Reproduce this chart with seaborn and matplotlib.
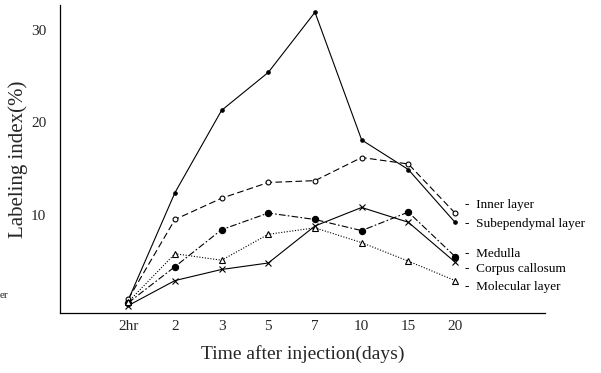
import pandas as pd
import matplotlib
matplotlib.use("Agg")
import matplotlib.pyplot as plt
import seaborn as sns

# data
times = ["2hr", "2", "3", "5", "7", "10", "15", "20"]
subependymal = [0.8, 12.4, 21.3, 25.4, 31.9, 18.1, 14.9, 9.2]
inner = [0.9, 9.5, 11.8, 13.5, 13.7, 16.2, 15.5, 10.2]
medulla = [0.5, 4.4, 8.4, 10.2, 9.5, 8.3, 10.3, 5.5]
corpus = [0.2, 2.9, 4.1, 4.8, 8.8, 10.8, 9.2, 4.9]
molecular = [0.6, 5.8, 5.1, 7.9, 8.6, 7.0, 5.0, 2.9]

series = {
    "Subependymal layer": subependymal,
    "Inner layer": inner,
    "Medulla": medulla,
    "Corpus callosum": corpus,
    "Molecular layer": molecular,
}
rows = []
for name, vals in series.items():
    for i, (t, v) in enumerate(zip(times, vals)):
        rows.append({"series": name, "pos": i, "time": t, "value": v})
df = pd.DataFrame(rows)

styles = {
    "Subependymal layer": dict(linestyle="-", marker="o", markersize=2.5, markerfacecolor="black"),
    "Inner layer": dict(linestyle=(0, (6, 3)), marker="o", markersize=3.5, markerfacecolor="white"),
    "Medulla": dict(linestyle=(0, (6, 2, 1.5, 2)), marker="o", markersize=4.5, markerfacecolor="black"),
    "Corpus callosum": dict(linestyle="-", marker="x", markersize=4.5, markerfacecolor="black"),
    "Molecular layer": dict(linestyle=(0, (1, 1.5)), marker="^", markersize=4, markerfacecolor="white"),
}

# label positions at right (data y)
label_y = {
    "Inner layer": 11.1,
    "Subependymal layer": 9.0,
    "Medulla": 5.8,
    "Corpus callosum": 4.2,
    "Molecular layer": 2.2,
}

sns.set_style("white")
plt.rcParams["font.family"] = ["Liberation Serif", "DejaVu Serif"]

fig = plt.figure(figsize=(6.01, 3.73), dpi=100)
ax = fig.add_axes([0.1, 0.161, 0.807, 0.826])

for name in series:
    sub = df[df["series"] == name]
    st = styles[name]
    sns.lineplot(data=sub, x="pos", y="value", ax=ax, color="black", linewidth=0.8,
                 linestyle=st["linestyle"], marker=st["marker"], markersize=st["markersize"],
                 markerfacecolor=st["markerfacecolor"], markeredgecolor="black",
                 markeredgewidth=0.8, legend=False)

for name, y in label_y.items():
    ax.text(7.22, y, "-  " + name, fontsize=9.5, va="center", ha="left", color="black")

ax.set_xlim(-1.46, 8.93)
ax.set_ylim(-0.6, 32.7)
ax.set_xticks(range(len(times)))
ax.set_xticklabels(times, fontsize=11)
ax.set_yticks([10, 20, 30])
ax.set_yticklabels(["10", "20", "30"], fontsize=11)
ax.tick_params(axis="x", direction="inout", length=6, width=0.8, pad=2)
ax.tick_params(axis="y", length=0, pad=10)
ax.set_xlabel("Time after injection(days)", fontsize=14, labelpad=9)
ax.set_ylabel("Labeling index(%)", fontsize=15, labelpad=2)
for s in ["top", "right"]:
    ax.spines[s].set_visible(False)
for s in ["left", "bottom"]:
    ax.spines[s].set_color("black")
    ax.spines[s].set_linewidth(0.9)

fig.text(0.0, 1 - 296 / 373, "er", fontsize=8, va="center", ha="left")

plt.savefig("out.png", dpi=100)
plt.close()
